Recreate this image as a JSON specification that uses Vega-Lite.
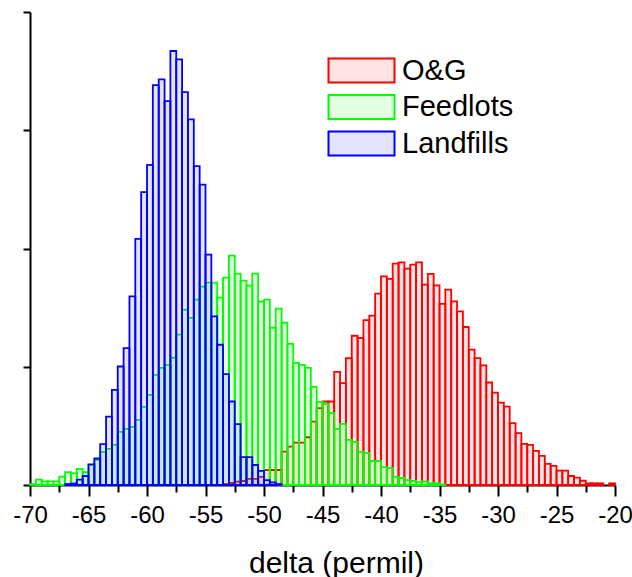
{
  "$schema": "https://vega.github.io/schema/vega-lite/v6.json",
  "width": 585,
  "height": 473,
  "autosize": {"type": "none"},
  "padding": {"left": 30, "top": 12, "right": 17, "bottom": 92},
  "background": "white",
  "config": {"view": {"stroke": null}, "font": "Liberation Sans"},
  "data": {
    "values": [
      {"source": "O&G", "lo": -53.5, "hi": -53, "count": 8},
      {"source": "O&G", "lo": -53, "hi": -52.5, "count": 17},
      {"source": "O&G", "lo": -52.5, "hi": -52, "count": 28},
      {"source": "O&G", "lo": -52, "hi": -51.5, "count": 34},
      {"source": "O&G", "lo": -51.5, "hi": -51, "count": 51},
      {"source": "O&G", "lo": -51, "hi": -50.5, "count": 51},
      {"source": "O&G", "lo": -50.5, "hi": -50, "count": 68},
      {"source": "O&G", "lo": -50, "hi": -49.5, "count": 127},
      {"source": "O&G", "lo": -49.5, "hi": -49, "count": 127},
      {"source": "O&G", "lo": -49, "hi": -48.5, "count": 127},
      {"source": "O&G", "lo": -48.5, "hi": -48, "count": 282},
      {"source": "O&G", "lo": -48, "hi": -47.5, "count": 324},
      {"source": "O&G", "lo": -47.5, "hi": -47, "count": 358},
      {"source": "O&G", "lo": -47, "hi": -46.5, "count": 358},
      {"source": "O&G", "lo": -46.5, "hi": -46, "count": 404},
      {"source": "O&G", "lo": -46, "hi": -45.5, "count": 536},
      {"source": "O&G", "lo": -45.5, "hi": -45, "count": 650},
      {"source": "O&G", "lo": -45, "hi": -44.5, "count": 706},
      {"source": "O&G", "lo": -44.5, "hi": -44, "count": 706},
      {"source": "O&G", "lo": -44, "hi": -43.5, "count": 957},
      {"source": "O&G", "lo": -43.5, "hi": -43, "count": 862},
      {"source": "O&G", "lo": -43, "hi": -42.5, "count": 1072},
      {"source": "O&G", "lo": -42.5, "hi": -42, "count": 1262},
      {"source": "O&G", "lo": -42, "hi": -41.5, "count": 1243},
      {"source": "O&G", "lo": -41.5, "hi": -41, "count": 1394},
      {"source": "O&G", "lo": -41, "hi": -40.5, "count": 1432},
      {"source": "O&G", "lo": -40.5, "hi": -40, "count": 1618},
      {"source": "O&G", "lo": -40, "hi": -39.5, "count": 1765},
      {"source": "O&G", "lo": -39.5, "hi": -39, "count": 1743},
      {"source": "O&G", "lo": -39, "hi": -38.5, "count": 1872},
      {"source": "O&G", "lo": -38.5, "hi": -38, "count": 1883},
      {"source": "O&G", "lo": -38, "hi": -37.5, "count": 1830},
      {"source": "O&G", "lo": -37.5, "hi": -37, "count": 1864},
      {"source": "O&G", "lo": -37, "hi": -36.5, "count": 1883},
      {"source": "O&G", "lo": -36.5, "hi": -36, "count": 1694},
      {"source": "O&G", "lo": -36, "hi": -35.5, "count": 1785},
      {"source": "O&G", "lo": -35.5, "hi": -35, "count": 1689},
      {"source": "O&G", "lo": -35, "hi": -34.5, "count": 1531},
      {"source": "O&G", "lo": -34.5, "hi": -34, "count": 1652},
      {"source": "O&G", "lo": -34, "hi": -33.5, "count": 1553},
      {"source": "O&G", "lo": -33.5, "hi": -33, "count": 1468},
      {"source": "O&G", "lo": -33, "hi": -32.5, "count": 1336},
      {"source": "O&G", "lo": -32.5, "hi": -32, "count": 1144},
      {"source": "O&G", "lo": -32, "hi": -31.5, "count": 1073},
      {"source": "O&G", "lo": -31.5, "hi": -31, "count": 1011},
      {"source": "O&G", "lo": -31, "hi": -30.5, "count": 867},
      {"source": "O&G", "lo": -30.5, "hi": -30, "count": 782},
      {"source": "O&G", "lo": -30, "hi": -29.5, "count": 697},
      {"source": "O&G", "lo": -29.5, "hi": -29, "count": 663},
      {"source": "O&G", "lo": -29, "hi": -28.5, "count": 523},
      {"source": "O&G", "lo": -28.5, "hi": -28, "count": 438},
      {"source": "O&G", "lo": -28, "hi": -27.5, "count": 347},
      {"source": "O&G", "lo": -27.5, "hi": -27, "count": 339},
      {"source": "O&G", "lo": -27, "hi": -26.5, "count": 288},
      {"source": "O&G", "lo": -26.5, "hi": -26, "count": 246},
      {"source": "O&G", "lo": -26, "hi": -25.5, "count": 178},
      {"source": "O&G", "lo": -25.5, "hi": -25, "count": 161},
      {"source": "O&G", "lo": -25, "hi": -24.5, "count": 121},
      {"source": "O&G", "lo": -24.5, "hi": -24, "count": 121},
      {"source": "O&G", "lo": -24, "hi": -23.5, "count": 76},
      {"source": "O&G", "lo": -23.5, "hi": -23, "count": 62},
      {"source": "O&G", "lo": -23, "hi": -22.5, "count": 36},
      {"source": "O&G", "lo": -22.5, "hi": -22, "count": 14},
      {"source": "O&G", "lo": -22, "hi": -21.5, "count": 14},
      {"source": "O&G", "lo": -21.5, "hi": -21, "count": 14},
      {"source": "O&G", "lo": -20.5, "hi": -20, "count": 14},

      {"source": "Feedlots", "lo": -70, "hi": -69.5, "count": 8},
      {"source": "Feedlots", "lo": -69.5, "hi": -69, "count": 45},
      {"source": "Feedlots", "lo": -69, "hi": -68.5, "count": 31},
      {"source": "Feedlots", "lo": -68.5, "hi": -68, "count": 31},
      {"source": "Feedlots", "lo": -68, "hi": -67.5, "count": 31},
      {"source": "Feedlots", "lo": -67.5, "hi": -67, "count": 70},
      {"source": "Feedlots", "lo": -67, "hi": -66.5, "count": 108},
      {"source": "Feedlots", "lo": -66.5, "hi": -66, "count": 99},
      {"source": "Feedlots", "lo": -66, "hi": -65.5, "count": 136},
      {"source": "Feedlots", "lo": -65.5, "hi": -65, "count": 108},
      {"source": "Feedlots", "lo": -65, "hi": -64.5, "count": 170},
      {"source": "Feedlots", "lo": -64.5, "hi": -64, "count": 212},
      {"source": "Feedlots", "lo": -64, "hi": -63.5, "count": 280},
      {"source": "Feedlots", "lo": -63.5, "hi": -63, "count": 305},
      {"source": "Feedlots", "lo": -63, "hi": -62.5, "count": 339},
      {"source": "Feedlots", "lo": -62.5, "hi": -62, "count": 449},
      {"source": "Feedlots", "lo": -62, "hi": -61.5, "count": 474},
      {"source": "Feedlots", "lo": -61.5, "hi": -61, "count": 491},
      {"source": "Feedlots", "lo": -61, "hi": -60.5, "count": 551},
      {"source": "Feedlots", "lo": -60.5, "hi": -60, "count": 661},
      {"source": "Feedlots", "lo": -60, "hi": -59.5, "count": 762},
      {"source": "Feedlots", "lo": -59.5, "hi": -59, "count": 932},
      {"source": "Feedlots", "lo": -59, "hi": -58.5, "count": 991},
      {"source": "Feedlots", "lo": -58.5, "hi": -58, "count": 1016},
      {"source": "Feedlots", "lo": -58, "hi": -57.5, "count": 1076},
      {"source": "Feedlots", "lo": -57.5, "hi": -57, "count": 1271},
      {"source": "Feedlots", "lo": -57, "hi": -56.5, "count": 1482},
      {"source": "Feedlots", "lo": -56.5, "hi": -56, "count": 1414},
      {"source": "Feedlots", "lo": -56, "hi": -55.5, "count": 1567},
      {"source": "Feedlots", "lo": -55.5, "hi": -55, "count": 1677},
      {"source": "Feedlots", "lo": -55, "hi": -54.5, "count": 1711},
      {"source": "Feedlots", "lo": -54.5, "hi": -54, "count": 1711},
      {"source": "Feedlots", "lo": -54, "hi": -53.5, "count": 1584},
      {"source": "Feedlots", "lo": -53.5, "hi": -53, "count": 1753},
      {"source": "Feedlots", "lo": -53, "hi": -52.5, "count": 1940},
      {"source": "Feedlots", "lo": -52.5, "hi": -52, "count": 1787},
      {"source": "Feedlots", "lo": -52, "hi": -51.5, "count": 1728},
      {"source": "Feedlots", "lo": -51.5, "hi": -51, "count": 1686},
      {"source": "Feedlots", "lo": -51, "hi": -50.5, "count": 1787},
      {"source": "Feedlots", "lo": -50.5, "hi": -50, "count": 1550},
      {"source": "Feedlots", "lo": -50, "hi": -49.5, "count": 1567},
      {"source": "Feedlots", "lo": -49.5, "hi": -49, "count": 1330},
      {"source": "Feedlots", "lo": -49, "hi": -48.5, "count": 1491},
      {"source": "Feedlots", "lo": -48.5, "hi": -48, "count": 1372},
      {"source": "Feedlots", "lo": -48, "hi": -47.5, "count": 1194},
      {"source": "Feedlots", "lo": -47.5, "hi": -47, "count": 1033},
      {"source": "Feedlots", "lo": -47, "hi": -46.5, "count": 1016},
      {"source": "Feedlots", "lo": -46.5, "hi": -46, "count": 991},
      {"source": "Feedlots", "lo": -46, "hi": -45.5, "count": 830},
      {"source": "Feedlots", "lo": -45.5, "hi": -45, "count": 703},
      {"source": "Feedlots", "lo": -45, "hi": -44.5, "count": 686},
      {"source": "Feedlots", "lo": -44.5, "hi": -44, "count": 610},
      {"source": "Feedlots", "lo": -44, "hi": -43.5, "count": 474},
      {"source": "Feedlots", "lo": -43.5, "hi": -43, "count": 517},
      {"source": "Feedlots", "lo": -43, "hi": -42.5, "count": 381},
      {"source": "Feedlots", "lo": -42.5, "hi": -42, "count": 364},
      {"source": "Feedlots", "lo": -42, "hi": -41.5, "count": 280},
      {"source": "Feedlots", "lo": -41.5, "hi": -41, "count": 271},
      {"source": "Feedlots", "lo": -41, "hi": -40.5, "count": 203},
      {"source": "Feedlots", "lo": -40.5, "hi": -40, "count": 203},
      {"source": "Feedlots", "lo": -40, "hi": -39.5, "count": 152},
      {"source": "Feedlots", "lo": -39.5, "hi": -39, "count": 144},
      {"source": "Feedlots", "lo": -39, "hi": -38.5, "count": 68},
      {"source": "Feedlots", "lo": -38.5, "hi": -38, "count": 59},
      {"source": "Feedlots", "lo": -38, "hi": -37.5, "count": 42},
      {"source": "Feedlots", "lo": -37.5, "hi": -37, "count": 34},
      {"source": "Feedlots", "lo": -37, "hi": -36.5, "count": 25},
      {"source": "Feedlots", "lo": -36.5, "hi": -36, "count": 30},
      {"source": "Feedlots", "lo": -36, "hi": -35.5, "count": 14},
      {"source": "Feedlots", "lo": -35.5, "hi": -35, "count": 14},
      {"source": "Feedlots", "lo": -35, "hi": -34.5, "count": 4},

      {"source": "Landfills", "lo": -67, "hi": -66.5, "count": 8},
      {"source": "Landfills", "lo": -66.5, "hi": -66, "count": 13},
      {"source": "Landfills", "lo": -66, "hi": -65.5, "count": 45},
      {"source": "Landfills", "lo": -65.5, "hi": -65, "count": 76},
      {"source": "Landfills", "lo": -65, "hi": -64.5, "count": 174},
      {"source": "Landfills", "lo": -64.5, "hi": -64, "count": 224},
      {"source": "Landfills", "lo": -64, "hi": -63.5, "count": 345},
      {"source": "Landfills", "lo": -63.5, "hi": -63, "count": 578},
      {"source": "Landfills", "lo": -63, "hi": -62.5, "count": 805},
      {"source": "Landfills", "lo": -62.5, "hi": -62, "count": 1002},
      {"source": "Landfills", "lo": -62, "hi": -61.5, "count": 1158},
      {"source": "Landfills", "lo": -61.5, "hi": -61, "count": 1595},
      {"source": "Landfills", "lo": -61, "hi": -60.5, "count": 2081},
      {"source": "Landfills", "lo": -60.5, "hi": -60, "count": 2476},
      {"source": "Landfills", "lo": -60, "hi": -59.5, "count": 2708},
      {"source": "Landfills", "lo": -59.5, "hi": -59, "count": 3382},
      {"source": "Landfills", "lo": -59, "hi": -58.5, "count": 3430},
      {"source": "Landfills", "lo": -58.5, "hi": -58, "count": 3247},
      {"source": "Landfills", "lo": -58, "hi": -57.5, "count": 3670},
      {"source": "Landfills", "lo": -57.5, "hi": -57, "count": 3600},
      {"source": "Landfills", "lo": -57, "hi": -56.5, "count": 3323},
      {"source": "Landfills", "lo": -56.5, "hi": -56, "count": 3092},
      {"source": "Landfills", "lo": -56, "hi": -55.5, "count": 2696},
      {"source": "Landfills", "lo": -55.5, "hi": -55, "count": 2541},
      {"source": "Landfills", "lo": -55, "hi": -54.5, "count": 1948},
      {"source": "Landfills", "lo": -54.5, "hi": -54, "count": 1426},
      {"source": "Landfills", "lo": -54, "hi": -53.5, "count": 1186},
      {"source": "Landfills", "lo": -53.5, "hi": -53, "count": 938},
      {"source": "Landfills", "lo": -53, "hi": -52.5, "count": 706},
      {"source": "Landfills", "lo": -52.5, "hi": -52, "count": 514},
      {"source": "Landfills", "lo": -52, "hi": -51.5, "count": 235},
      {"source": "Landfills", "lo": -51.5, "hi": -51, "count": 235},
      {"source": "Landfills", "lo": -51, "hi": -50.5, "count": 169},
      {"source": "Landfills", "lo": -50.5, "hi": -50, "count": 119},
      {"source": "Landfills", "lo": -50, "hi": -49.5, "count": 42},
      {"source": "Landfills", "lo": -49.5, "hi": -49, "count": 23},
      {"source": "Landfills", "lo": -49, "hi": -48.5, "count": 8}
    ]
  },
  "mark": {"type": "bar", "strokeWidth": 1.8, "fillOpacity": 0.1, "strokeOpacity": 1},
  "encoding": {
    "x": {
      "field": "lo",
      "type": "quantitative",
      "scale": {"domain": [-70, -20], "nice": false, "zero": false},
      "axis": {
        "title": "delta (permil)",
        "titleFont": "Liberation Sans",
        "titleFontSize": 30,
        "titleFontWeight": "normal",
        "titleColor": "black",
        "titlePadding": 21,
        "titleX": 306,
        "values": [-70, -67.5, -65, -62.5, -60, -57.5, -55, -52.5, -50, -47.5, -45, -42.5, -40, -37.5, -35, -32.5, -30, -27.5, -25, -22.5, -20],
        "labelExpr": "datum.value % 5 === 0 ? '' + datum.value : ''",
        "labelFont": "Liberation Sans",
        "labelFontSize": 24,
        "labelColor": "black",
        "labelPadding": 7,
        "labelOverlap": false,
        "labelFlush": false,
        "tickSize": {"condition": {"test": "datum.value % 5 === 0", "value": 11}, "value": 7},
        "tickWidth": 2,
        "tickColor": "black",
        "domainColor": "black",
        "domainWidth": 2,
        "grid": false
      }
    },
    "x2": {"field": "hi"},
    "y": {
      "field": "count",
      "type": "quantitative",
      "stack": null,
      "scale": {"domain": [0, 4000], "nice": false},
      "axis": {
        "title": null,
        "labels": false,
        "values": [0, 1000, 2000, 3000, 4000],
        "tickSize": 7,
        "tickWidth": 2,
        "tickColor": "black",
        "domainColor": "black",
        "domainWidth": 2,
        "grid": false
      }
    },
    "y2": {"datum": 0},
    "fill": {
      "field": "source",
      "type": "nominal",
      "scale": {"domain": ["O&G", "Feedlots", "Landfills"], "range": ["#ff0000", "#00ff00", "#0000ff"]},
      "legend": {
        "title": null,
        "orient": "none",
        "legendX": 317,
        "legendY": 44,
        "symbolType": "M-3,-1.1H3V1.1H-3Z",
        "symbolSize": 484,
        "symbolStrokeWidth": 2,
        "labelFont": "Liberation Sans",
        "labelFontSize": 29,
        "labelColor": "black",
        "labelOffset": 26,
        "rowPadding": 3.5,
        "encode": {"symbols": {"update": {"fillOpacity": {"value": 0.1}}}}
      }
    },
    "stroke": {
      "field": "source",
      "type": "nominal",
      "scale": {"domain": ["O&G", "Feedlots", "Landfills"], "range": ["#ff0000", "#00ff00", "#0000ff"]},
      "legend": {
        "title": null,
        "orient": "none",
        "legendX": 317,
        "legendY": 44,
        "symbolType": "M-3,-1.1H3V1.1H-3Z",
        "symbolSize": 484,
        "symbolStrokeWidth": 2,
        "labelFont": "Liberation Sans",
        "labelFontSize": 29,
        "labelColor": "black",
        "labelOffset": 26,
        "rowPadding": 3.5,
        "encode": {"symbols": {"update": {"fillOpacity": {"value": 0.1}}}}
      }
    }
  }
}
